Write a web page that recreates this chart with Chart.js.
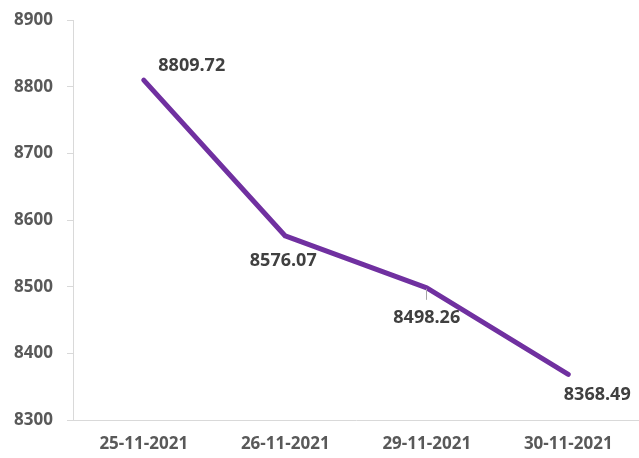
<!DOCTYPE html>
<html><head><meta charset="utf-8">
<script src="https://cdn.jsdelivr.net/npm/chart.js@4/dist/chart.umd.min.js"></script>
<style>html,body{margin:0;padding:0;background:#fff}#wrap{width:639px;height:458px}</style>
</head><body><div id="wrap"><canvas id="c" width="639" height="458"></canvas></div>
<script>
const categories = ['25-11-2021','26-11-2021','29-11-2021','30-11-2021'];
const values = [8809.72, 8576.07, 8498.26, 8368.49];
const yTicks = [8300, 8400, 8500, 8600, 8700, 8800, 8900];

const labelPlugin = {
  id: 'dataLabels',
  afterDatasetsDraw(chart) {
    const ctx = chart.ctx;
    const meta = chart.getDatasetMeta(0);
    const offs = [[48,-14],[-2,25],[0,30],[29,21]];
    ctx.save();
    // leader line for third label
    const p = meta.data[2];
    ctx.strokeStyle = '#a6a6a6';
    ctx.lineWidth = 1;
    ctx.beginPath();
    ctx.moveTo(Math.round(p.x) - 0.5, p.y + 1);
    ctx.lineTo(Math.round(p.x) - 0.5, p.y + 12);
    ctx.stroke();
    ctx.font = 'bold 18px "Open Sans", sans-serif';
    ctx.fillStyle = '#404040';
    ctx.textAlign = 'center';
    ctx.textBaseline = 'middle';
    meta.data.forEach((pt, i) => {
      const o = offs[i];
      ctx.fillText(values[i].toFixed(2), pt.x + o[0], pt.y + o[1]);
    });
    ctx.restore();
  }
};

new Chart(document.getElementById('c'), {
  type: 'line',
  data: {
    labels: categories,
    datasets: [{
      data: values,
      borderColor: '#7030A0',
      borderWidth: 5,
      borderCapStyle: 'round',
      borderJoinStyle: 'round',
      pointRadius: 0,
      tension: 0,
      fill: false
    }]
  },
  options: {
    responsive: false,
    animation: false,
    devicePixelRatio: 1,
    layout: { padding: { top: 20, right: -3, left: 0, bottom: 0 } },
    plugins: { legend: { display: false }, tooltip: { enabled: false } },
    scales: {
      x: {
        type: 'category',
        offset: true,
        border: { color: '#d9d9d9', width: 1 },
        grid: { display: false, drawTicks: false },
        ticks: { color: '#595959', font: { family: '"Open Sans", sans-serif', size: 17, weight: 'bold' }, padding: 14, maxRotation: 0, autoSkip: false },
        afterFit(s) { s.height = 38; s.paddingLeft = 0; s.paddingRight = 0; }
      },
      y: {
        min: 8300, max: 8900,
        afterBuildTicks(s) { s.ticks = yTicks.map(v => ({ value: v })); },
        border: { color: '#d9d9d9', width: 1 },
        grid: { drawOnChartArea: false, drawTicks: true, tickLength: 6, color: '#d9d9d9' },
        ticks: { color: '#595959', font: { family: '"Open Sans", sans-serif', size: 17, weight: 'bold' }, padding: 14, callback: v => String(v) },
        afterFit(s) { s.width = 73; s.paddingTop = 0; s.paddingBottom = 0; }
      }
    }
  },
  plugins: [labelPlugin]
});
</script></body></html>
